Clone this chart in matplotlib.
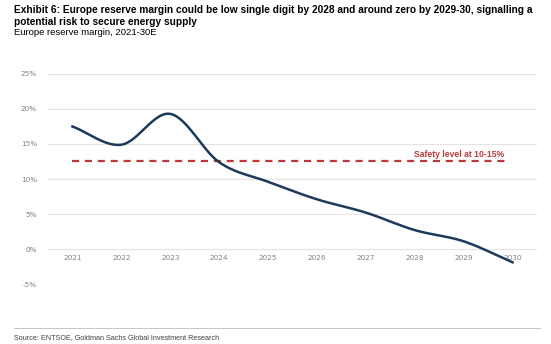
import numpy as np
import matplotlib.pyplot as plt

years = [2021, 2022, 2023, 2024, 2025, 2026, 2027, 2028, 2029, 2030]
margin = [17.5, 14.9, 19.3, 12.4, 9.6, 7.1, 5.2, 2.7, 1.1, -1.9]
safety = 12.5

font = 'Liberation Sans'


def smooth(x, y, n=30):
    # catmull-rom like excel smoothed lines
    x = np.asarray(x, float)
    y = np.asarray(y, float)
    px = np.concatenate([[2 * x[0] - x[1]], x, [2 * x[-1] - x[-2]]])
    py = np.concatenate([[2 * y[0] - y[1]], y, [2 * y[-1] - y[-2]]])
    xs, ys = [], []
    for i in range(1, len(px) - 2):
        t = np.linspace(0, 1, n, endpoint=False)
        for p, out in ((px, xs), (py, ys)):
            p0, p1, p2, p3 = p[i - 1], p[i], p[i + 1], p[i + 2]
            out.append(0.5 * ((2 * p1) + (-p0 + p2) * t
                              + (2 * p0 - 5 * p1 + 4 * p2 - p3) * t ** 2
                              + (-p0 + 3 * p1 - 3 * p2 + p3) * t ** 3))
    xs.append([x[-1]])
    ys.append([y[-1]])
    return np.concatenate(xs), np.concatenate(ys)


fig = plt.figure(figsize=(5.51, 3.44), dpi=100)
ax = fig.add_axes([0.0871, 0.1744, 0.8875, 0.6105])

sx, sy = smooth(years, margin)
ax.plot(sx, sy, color='#1c3a5c', lw=1.8, zorder=3, clip_on=False)
ax.plot([years[0], years[-1] - 0.1], [safety, safety], color='#b83c3c', lw=1.6,
        dashes=(3.2, 2.6), zorder=2)
ax.text(2030 - 0.18, safety + 0.3, 'Safety level at 10-15%', color='#b83c3c',
        fontsize=6.2, fontweight='bold', family=font, ha='right', va='bottom')

ax.set_xlim(2020.5, 2030.5)
ax.set_ylim(-5, 25)
ax.set_yticks(range(-5, 30, 5))
ax.set_yticklabels([f'{v}%' for v in range(-5, 30, 5)])
ax.set_xticks(years)
ax.set_xticklabels([str(y) for y in years])
ax.grid(axis='y', color='#e3e3e3', lw=0.8)
ax.set_axisbelow(True)
for s in ax.spines.values():
    s.set_visible(False)
ax.spines['bottom'].set_position(('data', 0))
ax.tick_params(length=0, labelsize=5.2, labelcolor='#808080')
ax.tick_params(axis='y', pad=8)
ax.tick_params(axis='x', pad=4)

fig.text(0.025, 0.985, 'Exhibit 6: Europe reserve margin could be low single digit by 2028 and around zero by 2029-30, signalling a\npotential risk to secure energy supply',
         fontsize=7.3, fontweight='bold', family=font, va='top', ha='left', linespacing=1.25)
fig.text(0.025, 0.92, 'Europe reserve margin, 2021-30E', fontsize=6.8, family=font, va='top', ha='left')

fig.add_artist(plt.Line2D([0.025, 0.98], [0.047, 0.047], color='#bdbdbd', lw=0.6))
fig.text(0.025, 0.02, 'Source: ENTSOE, Goldman Sachs Global Investment Research', fontsize=5.2,
         family=font, color='#404040', va='center', ha='left')

fig.savefig('out.png', dpi=100)
